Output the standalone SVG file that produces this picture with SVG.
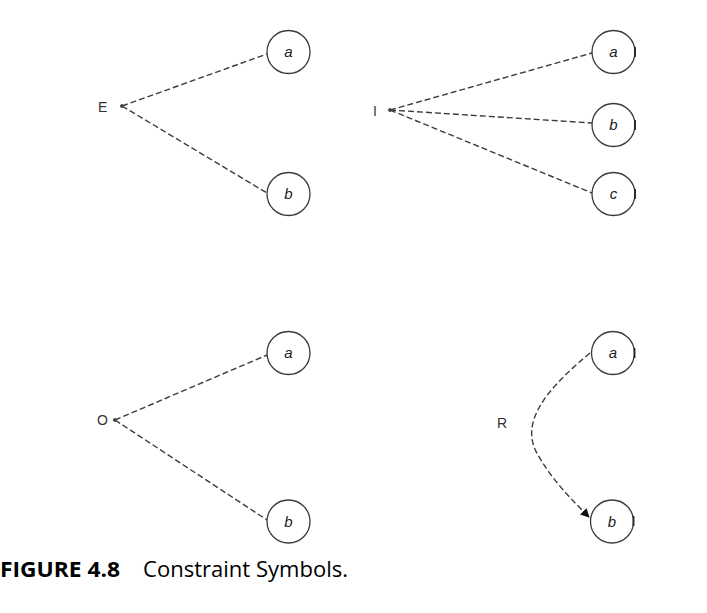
<svg xmlns="http://www.w3.org/2000/svg" width="707" height="613" viewBox="0 0 707 613">
<style>
.node{fill:#fff;stroke:#3a3a3a;stroke-width:1.3}
.lbl{font-family:"Liberation Sans",Arial,sans-serif;font-size:15px;font-style:italic;fill:#222;text-anchor:middle}
.sym{font-family:"Liberation Sans",Arial,sans-serif;font-size:14px;fill:#333}
.dash{fill:none;stroke:#3c3c3c;stroke-width:1.4;stroke-dasharray:6 3}
.dot{fill:#444;stroke:#444;stroke-width:0.8}
.edge{stroke:#222;stroke-width:1.8}
.cap{font-family:"Open Sans","Noto Sans",sans-serif;font-size:21px;fill:#000}
</style>
<defs>
<marker id="arr" viewBox="0 0 10 10" refX="9" refY="5" markerWidth="9" markerHeight="9" markerUnits="userSpaceOnUse" orient="auto">
<path d="M0,0 L10,5 L0,10 z" fill="#111"/>
</marker>
</defs>
<rect width="707" height="613" fill="#fff"/>

<g id="connectors">
<path class="dash" d="M122,106 L267,54"/>
<path class="dash" d="M122,106 L267,193"/>
<path class="dash" d="M390,110 L592,53"/>
<path class="dash" d="M390,110 L592,123"/>
<path class="dash" d="M390,110 L592,193"/>
<path class="dash" d="M115,420 L267,355"/>
<path class="dash" d="M115,420 L267,520"/>
<path class="dash" d="M590,353 C548,388 518,422 538,455 C552,480 572,500 589,517" marker-end="url(#arr)"/>
</g>

<g id="E">
<text class="sym" x="98" y="112">E</text>
<circle class="dot" cx="122" cy="106" r="1.6"/>
</g>
<g id="E-a"><circle class="node" cx="288.5" cy="52" r="21.5"/><text class="lbl" x="288.5" y="57">a</text></g>
<g id="E-b"><circle class="node" cx="288.5" cy="194" r="21.5"/><text class="lbl" x="288.5" y="199">b</text></g>

<g id="I">
<text class="sym" x="373" y="116">I</text>
<circle class="dot" cx="390" cy="110" r="1.6"/>
</g>
<g id="I-a"><circle class="node" cx="613.5" cy="52" r="21.5"/><text class="lbl" x="613.5" y="57">a</text><line class="edge" x1="635" y1="47" x2="635" y2="57"/></g>
<g id="I-b"><circle class="node" cx="613.5" cy="125" r="21.5"/><text class="lbl" x="613.5" y="130">b</text><line class="edge" x1="635" y1="120" x2="635" y2="130"/></g>
<g id="I-c"><circle class="node" cx="613.5" cy="194" r="21.5"/><text class="lbl" x="613.5" y="199">c</text><line class="edge" x1="635" y1="189" x2="635" y2="199"/></g>

<g id="O">
<text class="sym" x="97" y="425">O</text>
<circle class="dot" cx="115" cy="420" r="1.6"/>
</g>
<g id="O-a"><circle class="node" cx="288.5" cy="353" r="21.5"/><text class="lbl" x="288.5" y="358">a</text></g>
<g id="O-b"><circle class="node" cx="288.5" cy="521.5" r="21.5"/><text class="lbl" x="288.5" y="526.5">b</text></g>

<g id="R">
<text class="sym" x="497" y="428">R</text>
</g>
<g id="R-a"><circle class="node" cx="613" cy="353" r="21.5"/><text class="lbl" x="613" y="358">a</text><line class="edge" x1="634.5" y1="348" x2="634.5" y2="358"/></g>
<g id="R-b"><circle class="node" cx="612" cy="521.5" r="21.5"/><text class="lbl" x="612" y="526.5">b</text><line class="edge" x1="633.5" y1="516" x2="633.5" y2="526"/></g>

<g id="caption">
<text class="cap" x="0" y="577" font-weight="bold" textLength="120" lengthAdjust="spacingAndGlyphs">FIGURE 4.8</text>
<text class="cap" x="143" y="577" textLength="205" lengthAdjust="spacingAndGlyphs">Constraint Symbols.</text>
</g>
</svg>
